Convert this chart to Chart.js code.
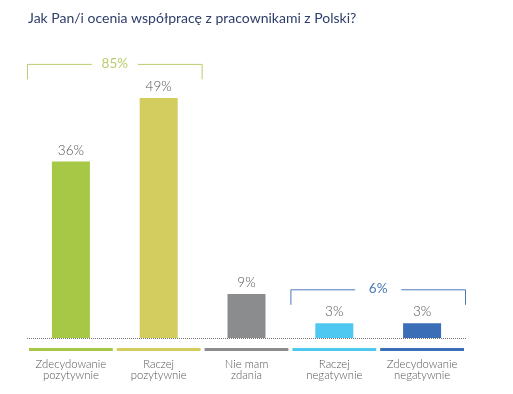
<!DOCTYPE html>
<html>
<head>
<meta charset="utf-8">
<script src="https://cdn.jsdelivr.net/npm/chart.js@4/dist/chart.umd.min.js"></script>
<style>
  html, body { margin: 0; padding: 0; background: #fff; }
  #wrap { width: 513px; height: 394px; position: relative; }
</style>
</head>
<body>
<div id="wrap"><canvas id="myChart" width="513" height="394"></canvas></div>
<script>
// Dane
const tytul = "Jak Pan/i ocenia współpracę z pracownikami z Polski?";
const kategorie = [
  ["Zdecydowanie", "pozytywnie"],
  ["Raczej", "pozytywnie"],
  ["Nie mam", "zdania"],
  ["Raczej", "negatywnie"],
  ["Zdecydowanie", "negatywnie"],
];
const wartosci = [36, 49, 9, 3, 3];
const kolory = ["#a6c846", "#d3cc5e", "#8b8c8e", "#4fc8f1", "#3a6eb6"];
// grupy sumaryczne (nawiasy nad slupkami)
const grupy = [
  { od: 0, do: 1, etykieta: "85%", kolor: "#b9cd6c" },
  { od: 3, do: 4, etykieta: "6%", kolor: "#4d79b8" },
];

const FONT = "Lato, sans-serif";

const dodatki = {
  id: "dodatki",
  afterDatasetsDraw(chart) {
    const ctx = chart.ctx;
    const x = chart.scales.x;
    const y = chart.scales.y;
    const meta = chart.getDatasetMeta(0);
    const base = y.getPixelForValue(0);
    const slot = (x.right - x.left) / kategorie.length;

    ctx.save();
    // tytul
    ctx.fillStyle = "#2e3d6a";
    ctx.font = "14px " + FONT;
    ctx.textAlign = "left";
    ctx.textBaseline = "middle";
    ctx.fillText(tytul, 28, 18);

    // linia bazowa kropkowana
    ctx.strokeStyle = "#777";
    ctx.lineWidth = 1;
    ctx.setLineDash([1, 1]);
    ctx.beginPath();
    ctx.moveTo(x.left, base + 0.5);
    ctx.lineTo(x.right + 1, base + 0.5);
    ctx.stroke();
    ctx.setLineDash([]);

    // wartosci nad slupkami
    ctx.fillStyle = "#555";
    ctx.font = "300 13.5px " + FONT;
    ctx.textAlign = "center";
    ctx.textBaseline = "alphabetic";
    meta.data.forEach((bar, i) => {
      ctx.fillText(wartosci[i] + "%", bar.x, bar.y - 7);
    });

    // paski kolorow i etykiety kategorii
    kategorie.forEach((lab, i) => {
      const cx = x.getPixelForValue(i);
      ctx.fillStyle = kolory[i];
      ctx.fillRect(cx - slot / 2 + 2, base + 10, slot - 4, 3);
      ctx.fillStyle = "#555";
      ctx.font = "300 11.3px " + FONT;
      ctx.textBaseline = "middle";
      lab.forEach((t, j) => ctx.fillText(t, cx, base + 26 + j * 11));
    });

    // nawiasy grup
    grupy.forEach((g) => {
      const x1 = x.getPixelForValue(g.od) - slot / 2 + 0.5;
      const x2 = x.getPixelForValue(g.do) + slot / 2 - 0.5;
      const najw = Math.max(...wartosci.slice(g.od, g.do + 1));
      const top = y.getPixelForValue(najw) - 34 + 0.5;
      const mid = (x1 + x2) / 2;
      ctx.strokeStyle = g.kolor;
      ctx.lineWidth = 1;
      ctx.beginPath();
      ctx.moveTo(x1, top + 15);
      ctx.lineTo(x1, top);
      ctx.lineTo(mid - 23, top);
      ctx.moveTo(mid + 23, top);
      ctx.lineTo(x2, top);
      ctx.lineTo(x2, top + 15);
      ctx.stroke();
      ctx.fillStyle = g.kolor;
      ctx.font = "13.5px " + FONT;
      ctx.textBaseline = "middle";
      ctx.fillText(g.etykieta, mid, top - 1);
    });
    ctx.restore();
  },
};

const chartContext = document.getElementById("myChart").getContext("2d");
const myChart = new Chart(chartContext, {
  type: "bar",
  data: {
    labels: kategorie.map((k) => k.join(" ")),
    datasets: [
      {
        data: wartosci,
        backgroundColor: kolory,
        borderWidth: 0,
        categoryPercentage: 1,
        barPercentage: 0.433,
      },
    ],
  },
  options: {
    responsive: false,
    animation: false,
    layout: { padding: { left: 27, right: 47, top: 93, bottom: 56 } },
    plugins: { legend: { display: false }, tooltip: { enabled: false } },
    scales: {
      x: { display: false },
      y: { display: false, min: 0, max: 50 },
    },
  },
  plugins: [dodatki],
});
</script>
</body>
</html>
